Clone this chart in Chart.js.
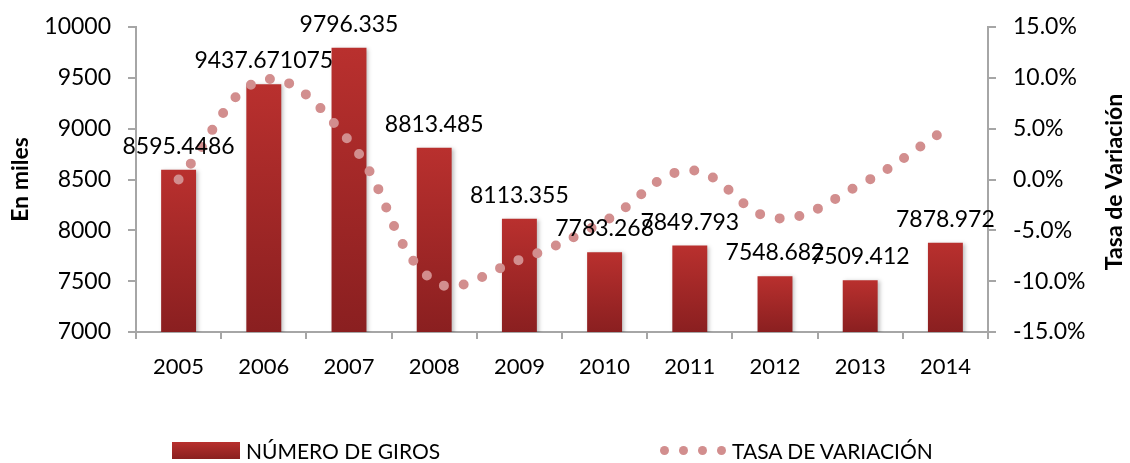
<!DOCTYPE html>
<html>
<head>
<meta charset="utf-8">
<script src="https://cdn.jsdelivr.net/npm/chart.js@4"></script>
<style>
  body { margin: 0; background: #fff; }
  #wrap { position: relative; width: 1130px; height: 463px; font-family: Lato, sans-serif; }
  #legend { position: absolute; left: 0; top: 438px; width: 1130px; height: 24px; font-size: 21px; color: #000; }
  .item { position: absolute; top: 0; display: flex; align-items: center; height: 24px; }
  .swatch { width: 68px; height: 17px; background: linear-gradient(#b8302e, #8a2020); margin-right: 6px; }
  .dot { width: 9px; height: 9px; border-radius: 50%; background: #d28e8e; margin-right: 10px; }
</style>
</head>
<body>
<div id="wrap">
  <canvas id="chart" width="1130" height="463"></canvas>
  <div id="legend">
    <div class="item" style="left:660px"><span class="dot"></span><span class="dot"></span><span class="dot"></span><span class="dot" style="margin-right:6px"></span><span>TASA DE VARIACIÓN</span></div>
    <div class="item" style="left:172px"><span class="swatch"></span><span>NÚMERO DE GIROS</span></div>
  </div>
</div>
<script>
// datos
const years = ['2005', '2006', '2007', '2008', '2009', '2010', '2011', '2012', '2013', '2014'];
const giros = [8595.4486, 9437.671075, 9796.335, 8813.485, 8113.355, 7783.268, 7849.793, 7548.682, 7509.412, 7878.972];
const tasa = [0.0, 9.8, 3.8, -10.0, -7.9, -4.1, 0.9, -3.8, -0.5, 4.9];

const FONT = 'Lato, sans-serif';
const axisGray = '#a6a6a6';

// etiquetas encima de las barras + sombra + titulo derecho
const barExtras = {
  id: 'barExtras',
  beforeDatasetDraw(chart, args) {
    if (args.index === 0) {
      const ctx = chart.ctx;
      ctx.save();
      ctx.shadowColor = 'rgba(0,0,0,0.25)';
      ctx.shadowBlur = 4;
      ctx.shadowOffsetX = 2;
      ctx.shadowOffsetY = 1;
    }
  },
  afterDatasetDraw(chart, args) {
    if (args.index === 0) chart.ctx.restore();
  },
  afterDatasetsDraw(chart) {
    const ctx = chart.ctx;
    const meta = chart.getDatasetMeta(0);
    ctx.save();
    ctx.font = '23px ' + FONT;
    ctx.fillStyle = '#000';
    ctx.textAlign = 'center';
    ctx.textBaseline = 'alphabetic';
    meta.data.forEach((bar, i) => {
      ctx.fillText(String(giros[i]), bar.x, bar.y - 16);
    });
    ctx.restore();
  },
  afterDraw(chart) {
    const ctx = chart.ctx;
    ctx.save();
    ctx.translate(1115, 182);
    ctx.rotate(-Math.PI / 2);
    ctx.font = 'bold 23px ' + FONT;
    ctx.fillStyle = '#000';
    ctx.textAlign = 'center';
    ctx.textBaseline = 'middle';
    ctx.fillText('Tasa de Variación', 0, 0);
    ctx.restore();
  }
};

function barGradient(c) {
  const chart = c.chart;
  const area = chart.chartArea;
  if (!area || c.raw === undefined) return '#a52828';
  const top = chart.scales.y.getPixelForValue(c.raw);
  const g = chart.ctx.createLinearGradient(0, top, 0, area.bottom);
  g.addColorStop(0, '#b9302e');
  g.addColorStop(1, '#8a1f20');
  return g;
}

function fitSide(width) {
  return (s) => { s.width = width; s.paddingTop = 0; s.paddingBottom = 0; };
}

new Chart(document.getElementById('chart'), {
  type: 'bar',
  data: {
    labels: years,
    datasets: [
      {
        label: 'NÚMERO DE GIROS',
        data: giros,
        yAxisID: 'y',
        backgroundColor: barGradient,
        categoryPercentage: 1,
        barPercentage: 0.41,
        order: 2
      },
      {
        type: 'line',
        label: 'TASA DE VARIACIÓN',
        data: tasa,
        yAxisID: 'y1',
        borderColor: '#d28e8e',
        borderWidth: 10,
        borderDash: [0, 20],
        borderCapStyle: 'round',
        tension: 0.4,
        pointRadius: 0,
        fill: false,
        order: 1
      }
    ]
  },
  options: {
    responsive: false,
    animation: false,
    layout: { padding: { top: 27, left: 0, right: 0, bottom: 0 } },
    plugins: {
      legend: { display: false },
      tooltip: { enabled: false }
    },
    scales: {
      x: {
        afterFit: (s) => { s.height = 131; },
        grid: { display: true, drawOnChartArea: false, tickLength: 7, color: axisGray, lineWidth: 2 },
        border: { color: axisGray, width: 2 },
        ticks: { color: '#000', font: { family: FONT, size: 22 }, padding: 15 }
      },
      y: {
        position: 'left',
        min: 7000,
        max: 10000,
        afterFit: fitSide(136),
        grid: { display: true, drawOnChartArea: false, tickLength: 8, color: axisGray, lineWidth: 2 },
        border: { color: axisGray, width: 2 },
        ticks: { stepSize: 500, color: '#000', font: { family: FONT, size: 23 }, padding: 17,
          callback: (v) => String(v) },
        title: { display: true, text: 'En miles', color: '#000', font: { family: FONT, size: 23, weight: 'bold' }, padding: { top: 7 } }
      },
      y1: {
        position: 'right',
        min: -15,
        max: 15,
        afterFit: fitSide(142),
        grid: { display: true, drawOnChartArea: false, tickLength: 8, color: axisGray, lineWidth: 2 },
        border: { color: axisGray, width: 2 },
        ticks: { stepSize: 5, color: '#000', font: { family: FONT, size: 23 }, padding: 17,
          callback: (v) => v.toFixed(1) + '%' }
      }
    }
  },
  plugins: [barExtras]
});
</script>
</body>
</html>
